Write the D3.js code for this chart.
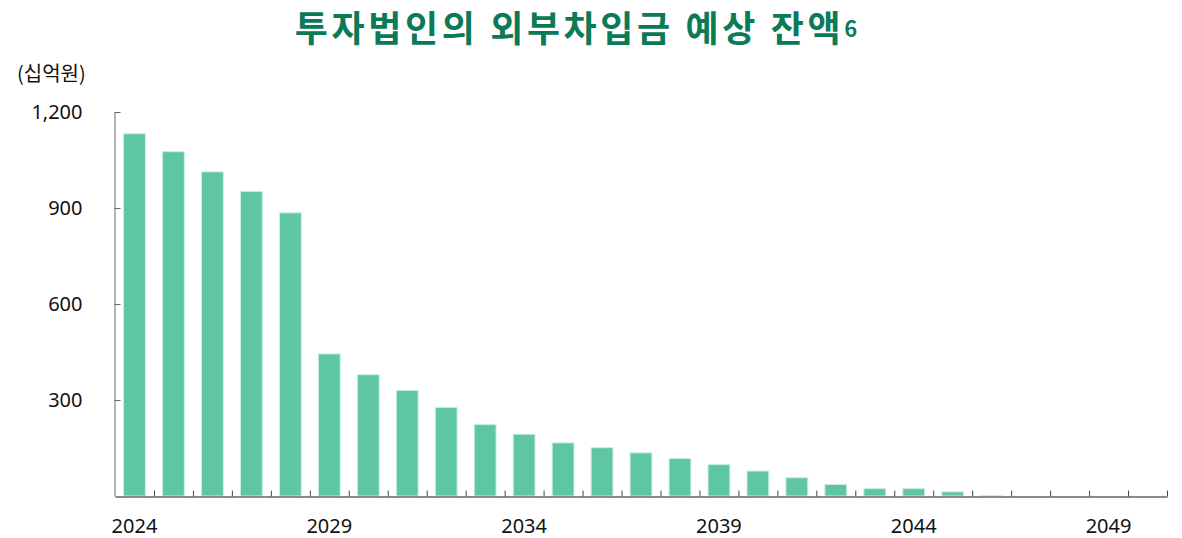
<!DOCTYPE html>
<html>
<head>
<meta charset="utf-8">
<script src="https://cdn.jsdelivr.net/npm/d3@7"></script>
<style>
  body { margin: 0; background: #fff; }
  text { font-family: "Noto Sans", "Noto Sans CJK KR", sans-serif; }
</style>
</head>
<body>
<div id="chart"></div>
<script>
// data (십억원)
var years = d3.range(2024, 2051);
var balance = [1132, 1076, 1013, 952, 885, 444, 379, 330, 277, 223, 193, 166, 151, 135, 117, 98, 78, 57, 36, 23, 23, 13, 2, 0, 0, 0, 0];
var yTicks = [300, 600, 900, 1200];
var xLabels = [2024, 2029, 2034, 2039, 2044, 2049];

var width = 1182, height = 538;
var plotLeft = 115, plotRight = 1167, plotTop = 112, plotBottom = 496;

var svg = d3.select("#chart").append("svg")
  .attr("width", width)
  .attr("height", height);

// title
var title = svg.append("text")
  .attr("x", 576)
  .attr("y", 42)
  .attr("text-anchor", "middle")
  .style("font-family", "'Noto Sans CJK KR', sans-serif")
  .style("font-size", "36px")
  .style("letter-spacing", "3.6px")
  .style("font-weight", "bold")
  .style("fill", "#0b7a57")
  .text("투자법인의 외부차입금 예상 잔액");
title.append("tspan")
  .attr("dy", -5)
  .style("font-size", "22px")
  .style("letter-spacing", "0px")
  .text("6");

// unit label
svg.append("text")
  .attr("x", 17)
  .attr("y", 81)
  .style("font-family", "'Noto Sans CJK KR', sans-serif")
  .style("font-size", "20px")
  .style("fill", "#111")
  .text("(십억원)");

var x = d3.scaleBand()
  .domain(years)
  .range([plotLeft, plotRight])
  .paddingInner(0.44)
  .paddingOuter(0.22);

var y = d3.scaleLinear()
  .domain([0, 1200])
  .range([plotBottom, plotTop]);

// bars
svg.append("g")
  .selectAll("rect")
  .data(years)
  .enter()
  .append("rect")
    .attr("x", function(d) { return x(d); })
    .attr("y", function(d, i) { return y(balance[i]); })
    .attr("width", x.bandwidth())
    .attr("height", function(d, i) { return plotBottom - y(balance[i]); })
    .style("fill", "#5ec6a4")
    .attr("stroke", "#c8efe2")
    .attr("stroke-width", 1);

// y axis, ticks pointing inward
var yAxis = svg.append("g")
  .attr("transform", "translate(" + (plotLeft - 0.5) + ",0)")
  .call(d3.axisLeft(y)
    .tickValues(yTicks)
    .tickSize(-6)
    .tickSizeOuter(0)
    .tickPadding(32)
    .tickFormat(d3.format(",")));
yAxis.select(".domain").attr("stroke", "#666");
yAxis.selectAll(".tick line").attr("stroke", "#666");
yAxis.selectAll("text").style("font-size", "20px").style("fill", "#111");

// x axis: boundary ticks between categories
var xb = d3.scaleLinear().domain([0, years.length]).range([plotLeft, plotRight]);
var xAxis = svg.append("g")
  .attr("transform", "translate(0," + (plotBottom + 0.5) + ")")
  .call(d3.axisBottom(xb)
    .tickValues(d3.range(1, years.length + 1))
    .tickSize(-6)
    .tickSizeOuter(0)
    .tickFormat(""));
xAxis.select(".domain").attr("stroke", "#666").attr("stroke-width", 1.5);
xAxis.selectAll(".tick line").attr("stroke", "#444");

// x labels every 5 years
var xl = svg.append("g")
  .attr("transform", "translate(0," + (plotBottom + 0.5) + ")")
  .call(d3.axisBottom(x)
    .tickValues(xLabels)
    .tickSize(0)
    .tickPadding(22));
xl.select(".domain").remove();
xl.selectAll("text").style("font-size", "20px").style("fill", "#111");
</script>
</body>
</html>
